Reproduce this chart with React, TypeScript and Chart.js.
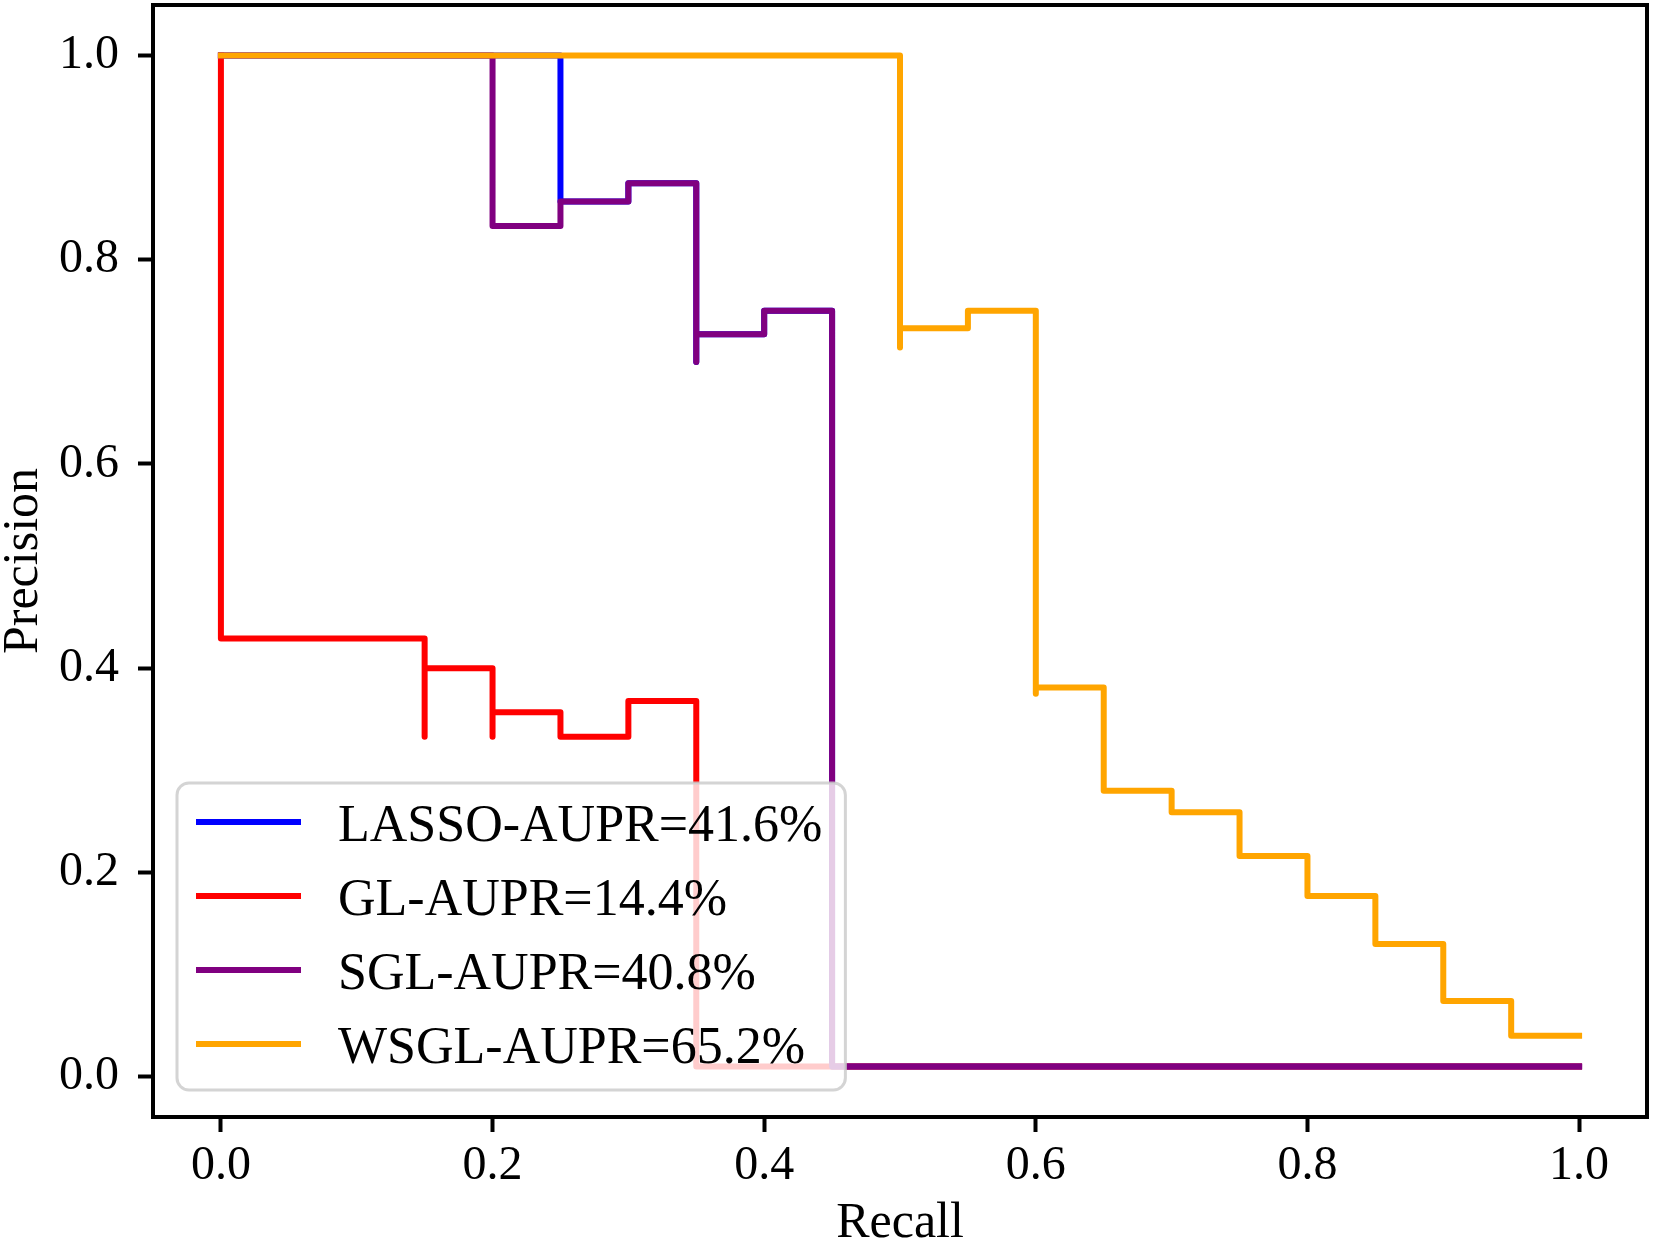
import { useEffect, useRef } from "react";
import { Chart, registerables } from "chart.js";

Chart.register(...registerables);

// precision-recall points (recall ascending)
const LASSO_RECALL = [0, 0.25, 0.3, 0.35, 0.35, 0.4, 0.45, 1.0];
const LASSO_PRECISION = [1, 0.857, 0.875, 0.7, 0.727, 0.75, 0.01, 0.01];

const GL_RECALL = [0, 0, 0.15, 0.15, 0.2, 0.2, 0.25, 0.3, 0.35, 1.0];
const GL_PRECISION = [1, 0.429, 0.333, 0.4, 0.333, 0.357, 0.333, 0.368, 0.01, 0.01];

const SGL_RECALL = [0, 0.2, 0.25, 0.3, 0.35, 0.35, 0.4, 0.45, 1.0];
const SGL_PRECISION = [1, 0.833, 0.857, 0.875, 0.7, 0.727, 0.75, 0.01, 0.01];

const WSGL_RECALL = [0, 0.5, 0.5, 0.55, 0.6, 0.6, 0.65, 0.7, 0.75, 0.8, 0.85, 0.9, 0.95, 1.0];
const WSGL_PRECISION = [1, 0.714, 0.733, 0.75, 0.375, 0.381, 0.28, 0.259, 0.216, 0.177, 0.13, 0.074, 0.04, 0.04];

const LABELS = ["LASSO-AUPR=41.6%", "GL-AUPR=14.4%", "SGL-AUPR=40.8%", "WSGL-AUPR=65.2%"];
const COLORS = ["#0000ff", "#ff0000", "#800080", "#ffa500"];

const X_TICKS = [0, 0.2, 0.4, 0.6, 0.8, 1.0];
const Y_TICKS = [0, 0.2, 0.4, 0.6, 0.8, 1.0];

const FONT = "'Liberation Serif', 'DejaVu Serif', serif";

const toPoints = (xs: number[], ys: number[]) => xs.map((x, i) => ({ x, y: ys[i] }));

// axes box + matplotlib-style legend in the lower left corner
const frameAndLegend = {
  id: "frameAndLegend",
  afterDatasetsDraw(chart: any) {
    const { ctx, chartArea } = chart;
    ctx.save();
    ctx.strokeStyle = "#000";
    ctx.lineWidth = 4;
    ctx.strokeRect(chartArea.left, chartArea.top, chartArea.right - chartArea.left, chartArea.bottom - chartArea.top);

    ctx.font = `52px ${FONT}`;
    const sets = chart.data.datasets;
    const textW = Math.max(...sets.map((d: any) => ctx.measureText(d.label).width));
    const w = 161 + textW + 23;
    const h = 307;
    const x = chartArea.left + 24;
    const y = chartArea.bottom - 27 - h;

    ctx.beginPath();
    ctx.roundRect(x, y, w, h, 12);
    ctx.fillStyle = "rgba(255,255,255,0.8)";
    ctx.fill();
    ctx.strokeStyle = "rgba(204,204,204,0.85)";
    ctx.lineWidth = 3;
    ctx.stroke();

    sets.forEach((ds: any, i: number) => {
      const cy = y + 39 + i * 74;
      ctx.strokeStyle = ds.borderColor;
      ctx.lineWidth = 6;
      ctx.lineCap = "butt";
      ctx.beginPath();
      ctx.moveTo(x + 19, cy);
      ctx.lineTo(x + 124, cy);
      ctx.stroke();
      ctx.fillStyle = "#000";
      ctx.textAlign = "left";
      ctx.textBaseline = "alphabetic";
      ctx.fillText(ds.label, x + 161, cy + 19);
    });
    ctx.restore();
  },
};

export default function App() {
  const chartRef = useRef<HTMLCanvasElement>(null);
  const chartInstance = useRef<Chart | null>(null);

  useEffect(() => {
    if (!chartRef.current) return;
    if (chartInstance.current) chartInstance.current.destroy();

    const series = [
      toPoints(LASSO_RECALL, LASSO_PRECISION),
      toPoints(GL_RECALL, GL_PRECISION),
      toPoints(SGL_RECALL, SGL_PRECISION),
      toPoints(WSGL_RECALL, WSGL_PRECISION),
    ];

    chartInstance.current = new Chart(chartRef.current, {
      type: "line",
      data: {
        datasets: series.map((data, i) => ({
          label: LABELS[i],
          data,
          borderColor: COLORS[i],
          backgroundColor: COLORS[i],
          borderWidth: 6,
          stepped: "before",
          pointRadius: 0,
          fill: false,
          borderCapStyle: "square",
          borderJoinStyle: "round",
          order: series.length - i,
        })),
      },
      options: {
        responsive: true,
        maintainAspectRatio: false,
        animation: false,
        layout: { padding: { top: 5, right: 7, left: 0, bottom: 0 } },
        plugins: {
          legend: { display: false },
          tooltip: { enabled: false },
        },
        scales: {
          x: {
            type: "linear",
            min: -0.05,
            max: 1.05,
            afterBuildTicks: (s: any) => {
              s.ticks = X_TICKS.map((v) => ({ value: v }));
            },
            afterFit: (s: any) => {
              s.height = 127;
              s.paddingLeft = 0;
              s.paddingRight = 0;
            },
            grid: { drawOnChartArea: false, drawTicks: true, tickLength: 15, tickWidth: 4, tickColor: "#000" },
            border: { display: false },
            ticks: {
              font: { family: FONT, size: 48 },
              color: "#000",
              padding: 6,
              maxRotation: 0,
              callback: (v: any) => Number(v).toFixed(1),
            },
            title: {
              display: true,
              text: "Recall",
              color: "#000",
              font: { family: FONT, size: 50, lineHeight: 0.8 },
              padding: 0,
            },
          },
          y: {
            type: "linear",
            min: -0.0395,
            max: 1.0495,
            afterBuildTicks: (s: any) => {
              s.ticks = Y_TICKS.map((v) => ({ value: v }));
            },
            afterFit: (s: any) => {
              s.width = 153;
              s.paddingTop = 0;
              s.paddingBottom = 0;
            },
            grid: { drawOnChartArea: false, drawTicks: true, tickLength: 15, tickWidth: 4, tickColor: "#000" },
            border: { display: false },
            ticks: {
              font: { family: FONT, size: 48 },
              color: "#000",
              padding: 19,
              callback: (v: any) => Number(v).toFixed(1),
            },
            title: {
              display: true,
              text: "Precision",
              color: "#000",
              font: { family: FONT, size: 50, lineHeight: 0.96 },
              padding: 0,
            },
          },
        },
      },
      plugins: [frameAndLegend],
    });

    return () => {
      if (chartInstance.current) {
        chartInstance.current.destroy();
        chartInstance.current = null;
      }
    };
  }, []);

  return (
    <div style={{ position: "fixed", left: 0, top: 0, width: 1654, height: 1244, background: "#fff" }}>
      <canvas ref={chartRef} />
    </div>
  );
}
